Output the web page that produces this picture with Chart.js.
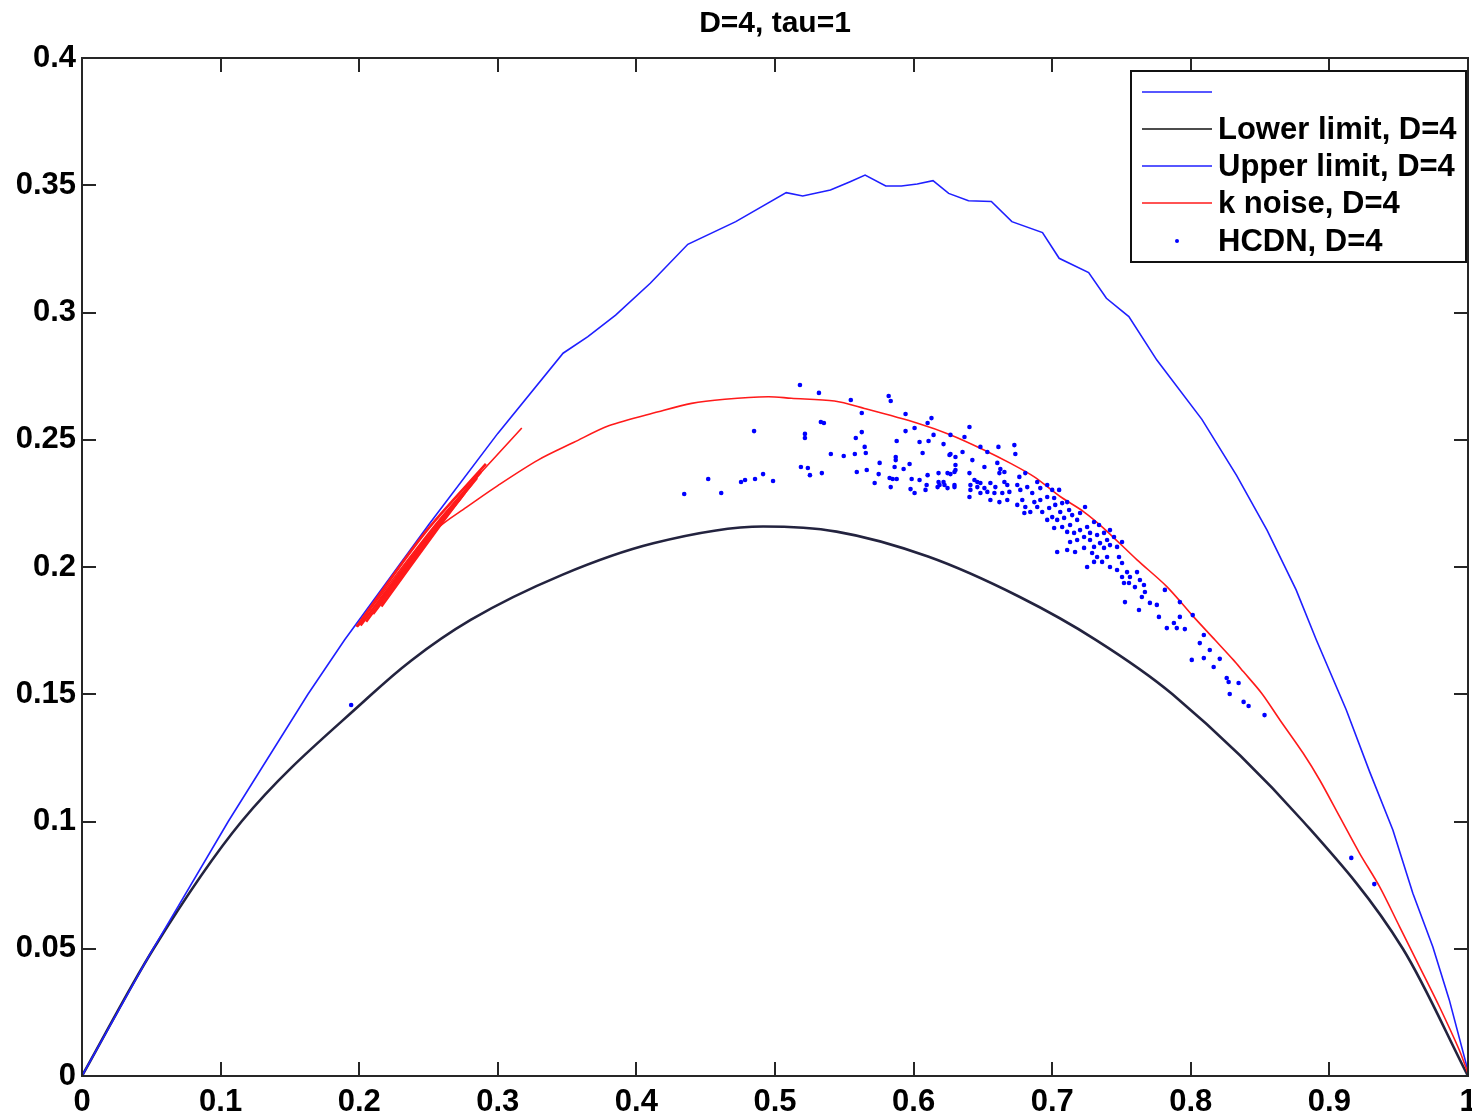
<!DOCTYPE html>
<html>
<head>
<meta charset="utf-8">
<script src="https://cdn.jsdelivr.net/npm/chart.js@4/dist/chart.umd.min.js"></script>
<style>
  body { margin: 0; background: #fff; }
  canvas { display: block; }
</style>
</head>
<body>
<canvas id="plot" width="1472" height="1115"></canvas>
<script>
// ticks
const xTickValues = [0, 0.1, 0.2, 0.3, 0.4, 0.5, 0.6, 0.7, 0.8, 0.9, 1]
const xTickLabels = ['0', '0.1', '0.2', '0.3', '0.4', '0.5', '0.6', '0.7', '0.8', '0.9', '1']
const yTickValues = [0, 0.05, 0.1, 0.15, 0.2, 0.25, 0.3, 0.35, 0.4]
const yTickLabels = ['0', '0.05', '0.1', '0.15', '0.2', '0.25', '0.3', '0.35', '0.4']

// lower limit, D=4
const lowerX = [0, 0.0516, 0.1151, 0.207, 0.2374, 0.2804, 0.3464, 0.4122, 0.4914, 0.5444, 0.6104, 0.6763, 0.7317, 0.7868, 0.8811, 0.953, 1.0]
const lowerY = [0, 0.05, 0.1, 0.149, 0.1632, 0.1792, 0.1969, 0.2093, 0.2159, 0.2139, 0.2041, 0.1883, 0.1713, 0.15, 0.1, 0.05, 0.0]

// upper limit, D=4
const upperX = [0, 0.048, 0.1055, 0.163, 0.1894, 0.25, 0.3, 0.3471, 0.365, 0.385, 0.41, 0.4371, 0.4717, 0.5081, 0.52, 0.54, 0.5542, 0.565, 0.5799, 0.5912, 0.6026, 0.614, 0.6253, 0.6396, 0.6561, 0.6709, 0.693, 0.705, 0.7263, 0.7391, 0.7553, 0.7755, 0.808, 0.833, 0.855, 0.876, 0.8906, 0.9122, 0.929, 0.9458, 0.9602, 0.9746, 0.9865, 1.0]
const upperY = [0, 0.0469, 0.1, 0.15, 0.1713, 0.2165, 0.2525, 0.284, 0.2905, 0.299, 0.3115, 0.3268, 0.3357, 0.3471, 0.3458, 0.3481, 0.3514, 0.354, 0.3497, 0.3497, 0.3505, 0.3518, 0.3468, 0.3439, 0.3436, 0.3357, 0.3314, 0.3213, 0.3157, 0.3056, 0.2984, 0.2813, 0.258, 0.236, 0.2145, 0.191, 0.1713, 0.1438, 0.1196, 0.0967, 0.0718, 0.0508, 0.0299, 0.002]

// k noise, D=4 (main curve)
const kNoiseX = [1.0, 0.9937, 0.9794, 0.965, 0.9506, 0.9362, 0.9218, 0.9074, 0.893, 0.8811, 0.8643, 0.8511, 0.8379, 0.8307, 0.8175, 0.8019, 0.7827, 0.7612, 0.7372, 0.7228, 0.706, 0.6868, 0.67, 0.6508, 0.6268, 0.6029, 0.5645, 0.5429, 0.5117, 0.495, 0.4638, 0.4398, 0.4158, 0.38, 0.355, 0.329, 0.30, 0.2775, 0.2552, 0.228, 0.1988]
const kNoiseY = [0.001, 0.0102, 0.0272, 0.043, 0.0587, 0.0744, 0.0875, 0.1019, 0.1163, 0.1268, 0.1399, 0.1504, 0.1589, 0.1635, 0.1713, 0.1805, 0.1923, 0.2028, 0.2152, 0.2217, 0.2276, 0.2355, 0.2407, 0.246, 0.2519, 0.2565, 0.2623, 0.2652, 0.2663, 0.2669, 0.2659, 0.2643, 0.261, 0.2555, 0.249, 0.242, 0.232, 0.2235, 0.2145, 0.1955, 0.1765]

// k noise, short branches near the upper limit
const kBranchX = [[0.198, 0.2475, 0.2914], [0.201, 0.25, 0.288], [0.205, 0.252, 0.285], [0.21, 0.255, 0.281], [0.216, 0.258, 0.276], [0.199, 0.26, 0.3173]]
const kBranchY = [[0.1765, 0.2135, 0.2405], [0.1770, 0.2125, 0.2375], [0.1785, 0.213, 0.2350], [0.1815, 0.2145, 0.2325], [0.1845, 0.216, 0.229], [0.177, 0.22, 0.2546]]

// HCDN, D=4
const hcdnX = [
  0.1942, 0.4345, 0.4518, 0.4612, 0.4755, 0.4784, 0.4856, 0.4914, 0.4986, 0.4849,
  0.5180, 0.5317, 0.5547, 0.5820, 0.5835, 0.5216, 0.5216, 0.5331, 0.5353, 0.5626,
  0.5626, 0.5583, 0.5942, 0.5942, 0.6007, 0.6101, 0.6129, 0.6144, 0.6266, 0.5878,
  0.6043, 0.6108, 0.6216, 0.5647, 0.6065, 0.6259, 0.5403, 0.5496, 0.5576, 0.5655,
  0.5871, 0.5871, 0.5971, 0.5755, 0.6302, 0.6302, 0.5187, 0.5237, 0.5252, 0.5338,
  0.5590, 0.5662, 0.5748, 0.5863, 0.5928, 0.6302, 0.6266, 0.6180, 0.6101, 0.5827,
  0.5849, 0.5878, 0.5986, 0.6043, 0.6180, 0.6216, 0.6223, 0.6295, 0.5719, 0.5835,
  0.5978, 0.6007, 0.6086, 0.6094, 0.6173, 0.6245,
  0.6403, 0.6367, 0.6353, 0.6266, 0.6482, 0.6532, 0.6612, 0.6727, 0.6734, 0.6424,
  0.6511, 0.6295, 0.6245, 0.6187, 0.6295, 0.6604, 0.6626, 0.6655, 0.6619, 0.6806,
  0.6763, 0.6403, 0.6439, 0.6460, 0.6482, 0.6410, 0.6460, 0.6511, 0.6554, 0.6590,
  0.6655, 0.6676, 0.6691, 0.6640, 0.6583, 0.6532, 0.6482, 0.6410, 0.6403, 0.6554,
  0.6619, 0.6676, 0.6748, 0.6770, 0.6820, 0.6892, 0.6914, 0.6964, 0.7000, 0.7050,
  0.6856, 0.6784, 0.6748, 0.6806, 0.6871, 0.6914, 0.6964, 0.7014, 0.6892, 0.6842,
  0.6799, 0.6928, 0.6978, 0.7022, 0.7072, 0.7108, 0.7122, 0.7058, 0.7000, 0.6964,
  0.7036, 0.7086, 0.7144, 0.7237, 0.7201, 0.7180, 0.7129, 0.7072, 0.7014, 0.7108,
  0.7158, 0.7201, 0.7252, 0.7302, 0.7338, 0.7273, 0.7230, 0.7180, 0.7129, 0.7273,
  0.7324, 0.7374, 0.7417, 0.7446, 0.7396, 0.7345, 0.7302, 0.7374, 0.7417, 0.7504,
  0.7468, 0.7036, 0.7108, 0.7165, 0.7230, 0.7288, 0.7324, 0.7302, 0.7360, 0.7396,
  0.7417, 0.7482, 0.7504, 0.7468, 0.7540, 0.7504, 0.7561, 0.7612, 0.7633, 0.7662,
  0.7597, 0.7554, 0.7518, 0.7252, 0.7669, 0.7647, 0.7705, 0.7755, 0.7525, 0.7626,
  0.7813, 0.7921, 0.7770, 0.7827, 0.7878, 0.7899, 0.7957, 0.7921, 0.8014, 0.8094,
  0.8065, 0.8137, 0.8209, 0.8094, 0.8007, 0.8165, 0.8259, 0.8273, 0.8345, 0.8281,
  0.8381, 0.8417, 0.8532, 0.9158, 0.9324
]
const hcdnY = [
  0.1458, 0.2287, 0.2346, 0.2291, 0.2334, 0.2342, 0.2346, 0.2365, 0.2338, 0.2534,
  0.2715, 0.2684, 0.2656, 0.2672, 0.2652, 0.2523, 0.2507, 0.2570, 0.2566, 0.2605,
  0.2530, 0.2507, 0.2601, 0.2534, 0.2546, 0.2566, 0.2585, 0.2519, 0.2519, 0.2495,
  0.2491, 0.2495, 0.2483, 0.2472, 0.2448, 0.2440, 0.2444, 0.2436, 0.2444, 0.2448,
  0.2432, 0.2420, 0.2405, 0.2409, 0.2432, 0.2401, 0.2393, 0.2389, 0.2361, 0.2369,
  0.2373, 0.2381, 0.2365, 0.2393, 0.2385, 0.2381, 0.2365, 0.2369, 0.2361, 0.2350,
  0.2346, 0.2346, 0.2346, 0.2342, 0.2334, 0.2334, 0.2322, 0.2322, 0.2330, 0.2314,
  0.2306, 0.2291, 0.2303, 0.2322, 0.2314, 0.2310,
  0.2550, 0.2511, 0.2452, 0.2444, 0.2472, 0.2452, 0.2472, 0.2479, 0.2444, 0.2420,
  0.2393, 0.2373, 0.2369, 0.2322, 0.2314, 0.2409, 0.2385, 0.2373, 0.2369, 0.2369,
  0.2354, 0.2369, 0.2342, 0.2334, 0.2330, 0.2322, 0.2314, 0.2310, 0.2330, 0.2314,
  0.2334, 0.2322, 0.2295, 0.2291, 0.2291, 0.2295, 0.2291, 0.2303, 0.2275, 0.2263,
  0.2255, 0.2263, 0.2322, 0.2303, 0.2314, 0.2334, 0.2310, 0.2322, 0.2303, 0.2303,
  0.2291, 0.2263, 0.2244, 0.2236, 0.2255, 0.2263, 0.2275, 0.2271, 0.2236, 0.2216,
  0.2212, 0.2216, 0.2232, 0.2244, 0.2251, 0.2255, 0.2224, 0.2216, 0.2196, 0.2185,
  0.2185, 0.2193, 0.2204, 0.2236, 0.2212, 0.2185, 0.2165, 0.2157, 0.2153, 0.2138,
  0.2134, 0.2145, 0.2157, 0.2177, 0.2165, 0.2134, 0.2118, 0.2106, 0.2098, 0.2106,
  0.2126, 0.2134, 0.2145, 0.2118, 0.2106, 0.2094, 0.2079, 0.2075, 0.2086, 0.2098,
  0.2079, 0.2059, 0.2067, 0.2059, 0.2075, 0.2055, 0.2039, 0.2020, 0.2020, 0.2039,
  0.2000, 0.2039, 0.2016, 0.1988, 0.1980, 0.1961, 0.1961, 0.1980, 0.1949, 0.1929,
  0.1921, 0.1937, 0.1937, 0.2000, 0.1902, 0.1882, 0.1859, 0.1851, 0.1862, 0.1831,
  0.1910, 0.1862, 0.1804, 0.1760, 0.1780, 0.1760, 0.1756, 0.1804, 0.1811, 0.1733,
  0.1701, 0.1674, 0.1639, 0.1642, 0.1635, 0.1607, 0.1564, 0.1548, 0.1544, 0.1501,
  0.1470, 0.1454, 0.1418, 0.0857, 0.0754
]

const FONT = "'Liberation Sans', Arial, Helvetica, sans-serif"
const BLUE = '#1f1fff', RED = '#ff1a1a', DARK = '#23233f'

function pts(xs, ys) {
    return xs.map((x, i) => ({ x: x, y: ys[i] }))
}

// line datasets
let datasets = [
    { label: '', data: [], borderColor: BLUE, inLegend: true, legendType: 'line' },
    { label: 'Lower limit, D=4', data: pts(lowerX, lowerY), borderColor: DARK, legendColor: '#111',
      borderWidth: 2.6, cubicInterpolationMode: 'monotone', order: 4, inLegend: true, legendType: 'line' },
    { label: 'Upper limit, D=4', data: pts(upperX, upperY), borderColor: BLUE,
      borderWidth: 1.6, tension: 0, order: 3, inLegend: true, legendType: 'line' },
    { label: 'k noise, D=4', data: pts(kNoiseX, kNoiseY), borderColor: RED,
      borderWidth: 1.6, tension: 0.3, order: 2, inLegend: true, legendType: 'line' }
]
for (let i = 0; i < kBranchX.length; i++) {
    datasets.push({ label: 'k noise, D=4', data: pts(kBranchX[i], kBranchY[i]), borderColor: RED,
        borderWidth: i < 5 ? 2.6 : 1.6, tension: 0.3, order: 2, inLegend: false })
}
datasets.forEach(d => { d.showLine = true; d.pointRadius = 0; d.fill = false })
datasets.push({ label: 'HCDN, D=4', data: pts(hcdnX, hcdnY), showLine: false,
    pointRadius: 2.3, pointBorderWidth: 0, backgroundColor: '#0000ff', borderColor: '#0000ff',
    order: 0, inLegend: true, legendType: 'point' })

// caja, marcas hacia dentro (como matlab)
const framePlugin = {
    id: 'framePlugin',
    afterDatasetsDraw(chart) {
        const { ctx, chartArea: a, scales: { x, y } } = chart
        ctx.save()
        ctx.strokeStyle = '#262626'
        ctx.lineWidth = 2
        ctx.strokeRect(a.left, a.top, a.right - a.left, a.bottom - a.top)
        ctx.beginPath()
        x.ticks.forEach(t => {
            const px = Math.round(x.getPixelForValue(t.value))
            ctx.moveTo(px, a.bottom); ctx.lineTo(px, a.bottom - 14)
            ctx.moveTo(px, a.top); ctx.lineTo(px, a.top + 14)
        })
        y.ticks.forEach(t => {
            const py = Math.round(y.getPixelForValue(t.value))
            ctx.moveTo(a.left, py); ctx.lineTo(a.left + 14, py)
            ctx.moveTo(a.right, py); ctx.lineTo(a.right - 14, py)
        })
        ctx.stroke()
        ctx.restore()
    }
}

// leyenda dentro del area
const boxLegend = {
    id: 'boxLegend',
    afterDraw(chart) {
        const ctx = chart.ctx
        const items = chart.data.datasets.filter(d => d.inLegend)
        const left = 1131, top = 71, w = 335, h = 191
        ctx.save()
        ctx.fillStyle = '#fff'
        ctx.fillRect(left, top, w, h)
        ctx.strokeStyle = '#111'
        ctx.lineWidth = 2
        ctx.strokeRect(left, top, w, h)
        const rows = [92, 129, 166, 203, 241]
        ctx.font = 'bold 31px ' + FONT
        ctx.textBaseline = 'middle'
        items.forEach((d, i) => {
            const yy = rows[i]
            if (d.legendType === 'point') {
                ctx.fillStyle = d.backgroundColor
                ctx.beginPath(); ctx.arc(1177, yy, 2, 0, Math.PI * 2); ctx.fill()
            } else {
                ctx.strokeStyle = d.legendColor || d.borderColor
                ctx.lineWidth = 1.6
                ctx.beginPath(); ctx.moveTo(1142, yy); ctx.lineTo(1212, yy); ctx.stroke()
            }
            ctx.fillStyle = '#000'
            ctx.fillText(d.label, 1218, yy + 1)
        })
        ctx.restore()
    }
}

new Chart(document.getElementById('plot'), {
    type: 'scatter',
    data: { datasets: datasets },
    options: {
        responsive: false,
        animation: false,
        devicePixelRatio: 1,
        events: [],
        layout: { padding: 0 },
        plugins: {
            legend: { display: false },
            tooltip: { enabled: false },
            title: {
                display: true, text: 'D=4, tau=1', fullSize: false, color: '#000',
                font: { family: FONT, size: 30, weight: 'bold', lineHeight: 1.2 },
                padding: { top: 6, bottom: 16 }
            }
        },
        scales: {
            x: {
                type: 'linear', min: 0, max: 1,
                grid: { display: false, drawTicks: false },
                border: { display: false },
                afterBuildTicks: s => { s.ticks = xTickValues.map(v => ({ value: v })) },
                afterFit: s => { s.height = 39; s.paddingLeft = 0; s.paddingRight = 0 },
                ticks: {
                    autoSkip: false, maxRotation: 0, padding: 8, color: '#000',
                    font: { family: FONT, size: 31, weight: 'bold' },
                    callback: (v, i) => xTickLabels[i]
                }
            },
            y: {
                type: 'linear', min: 0, max: 0.4,
                grid: { display: false, drawTicks: false },
                border: { display: false },
                afterBuildTicks: s => { s.ticks = yTickValues.map(v => ({ value: v })) },
                afterFit: s => { s.width = 82; s.paddingTop = 0; s.paddingBottom = 0 },
                ticks: {
                    autoSkip: false, padding: 6, color: '#000',
                    font: { family: FONT, size: 31, weight: 'bold' },
                    callback: (v, i) => yTickLabels[i]
                }
            }
        }
    },
    plugins: [framePlugin, boxLegend]
})
</script>
</body>
</html>
